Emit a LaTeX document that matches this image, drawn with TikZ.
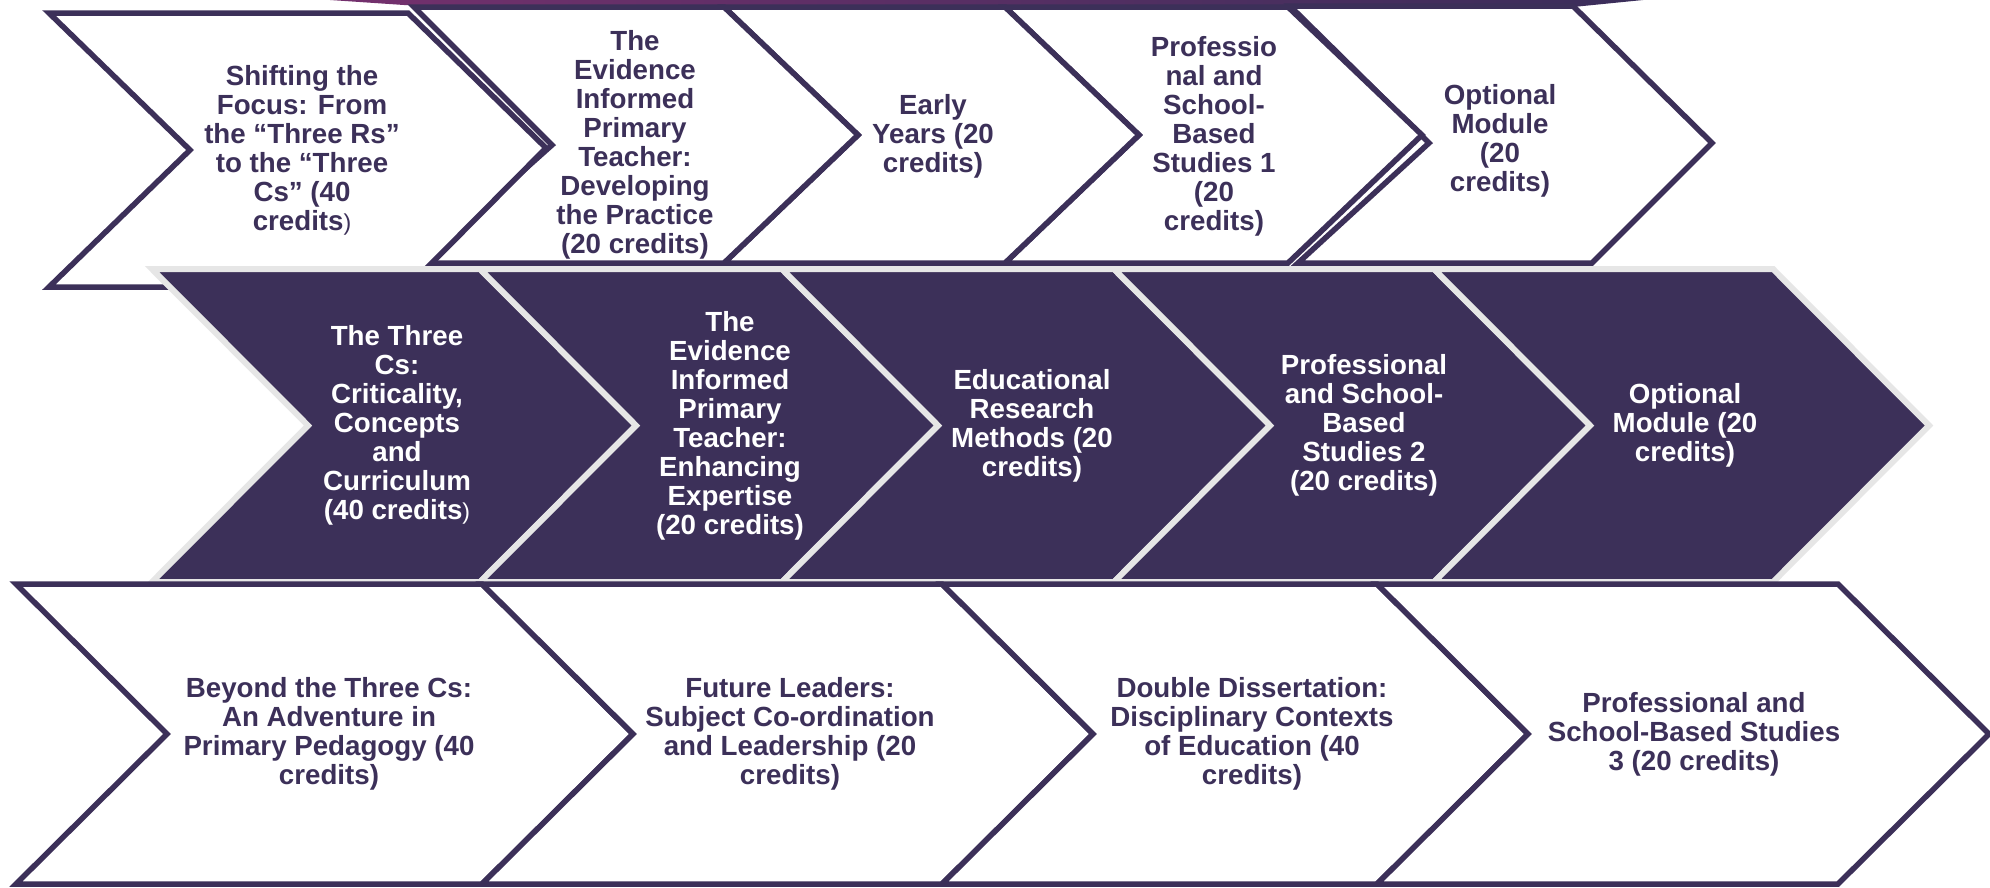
\documentclass[tikz,border=0pt]{standalone}
\usepackage{fontspec}
\setmainfont{Liberation Sans}
\definecolor{dkp}{HTML}{3C3059}
\definecolor{gryb}{HTML}{E6E6E6}
\definecolor{barL}{HTML}{74306D}
\definecolor{barR}{HTML}{3A2E5A}
\newcommand{\lbl}{\bfseries\fontsize{27.7}{29}\selectfont}
\newcommand{\thinp}{{\mdseries\fontsize{23}{29}\selectfont)}}
% style, x-left, x-right, depth, top, mid, bottom
\newcommand{\chevshape}[7]{%
  \path[#1] (#2,#5) -- (#3,#5) -- ({#3+#4},#6) -- (#3,#7) -- (#2,#7) -- ({#2+#4},#6) -- cycle;}
\tikzset{
  lightchev/.style={fill=white, draw=dkp, line width=5.5pt, line join=miter},
  darkchev/.style={fill=dkp, draw=gryb, line width=6pt, line join=miter},
  darktxt/.style={text=dkp, font=\lbl, align=center, inner sep=0pt},
  lighttxt/.style={text=white, font=\lbl, align=center, inner sep=0pt},
}
\begin{document}
\begin{tikzpicture}[x=1pt,y=-1pt]
\path[use as bounding box, fill=white] (0,0) rectangle (1990,887);
% top decorative bar
\shade[left color=barL, right color=barR] (330,0) -- (1643,0) -- (1573,7) -- (404,5) -- cycle;
% row 1 (drawn right to left)
\path[lightchev] (1290,6) -- (1573,6) -- (1712,143) -- (1592,263) -- (1298,263) -- (1429,143) -- cycle;
\chevshape{lightchev}{1005}{1288}{134}{7}{135}{263}
\chevshape{lightchev}{724}{1005}{134}{7}{135}{263}
\path[lightchev] (414,7) -- (724,7) -- (858,135) -- (724,263) -- (420,263) -- (552,145) -- cycle;
\path[lightchev] (49,13) -- (408,13) -- (546,148) -- (408,287) -- (49,287) -- (190,150) -- cycle;
% row 2
\chevshape{darkchev}{152}{480}{156}{269}{425.5}{582}
\chevshape{darkchev}{480}{782}{156}{269}{425.5}{582}
\chevshape{darkchev}{782}{1114}{156}{269}{425.5}{582}
\chevshape{darkchev}{1114}{1434}{156}{269}{425.5}{582}
\chevshape{darkchev}{1434}{1773}{156}{269}{425.5}{582}
% row 3
\chevshape{lightchev}{16}{482}{151}{584}{734}{884}
\chevshape{lightchev}{482}{942}{151}{584}{734}{884}
\chevshape{lightchev}{942}{1377}{151}{584}{734}{884}
\chevshape{lightchev}{1377}{1838}{151}{584}{734}{884}
% row 1 texts
\node[darktxt] (r1a) at (302,150) {Shifting the\\Focus: From\\the “Three Rs”\\to the “Three\\Cs” (40\\credits\thinp};
\node[darktxt] (r1b) at (635,145) {The\\Evidence\\Informed\\Primary\\Teacher:\\Developing\\the Practice\\(20 credits)};
\node[darktxt] (r1c) at (933,136) {Early\\Years (20\\credits)};
\node[darktxt] (r1d) at (1214,136) {Professio\\nal and\\School-\\Based\\Studies 1\\(20\\credits)};
\node[darktxt] (r1e) at (1500,141) {Optional\\Module\\(20\\credits)};
% row 2 texts
\node[lighttxt] (r2a) at (397,425.5) {The Three\\Cs:\\Criticality,\\Concepts\\and\\Curriculum\\(40 credits\thinp};
\node[lighttxt] (r2b) at (730,425.5) {The\\Evidence\\Informed\\Primary\\Teacher:\\Enhancing\\Expertise\\(20 credits)};
\node[lighttxt] (r2c) at (1032,425.5) {Educational\\Research\\Methods (20\\credits)};
\node[lighttxt] (r2d) at (1364,425.5) {Professional\\and School-\\Based\\Studies 2\\(20 credits)};
\node[lighttxt] (r2e) at (1685,425.5) {Optional\\Module (20\\credits)};
% row 3 texts
\node[darktxt] (r3a) at (329,734) {Beyond the Three Cs:\\An Adventure in\\Primary Pedagogy (40\\credits)};
\node[darktxt] (r3b) at (790,734) {Future Leaders:\\Subject Co-ordination\\and Leadership (20\\credits)};
\node[darktxt] (r3c) at (1252,734) {Double Dissertation:\\Disciplinary Contexts\\of Education (40\\credits)};
\node[darktxt] (r3d) at (1694,734) {Professional and\\School-Based Studies\\3 (20 credits)};
\end{tikzpicture}
\end{document}
